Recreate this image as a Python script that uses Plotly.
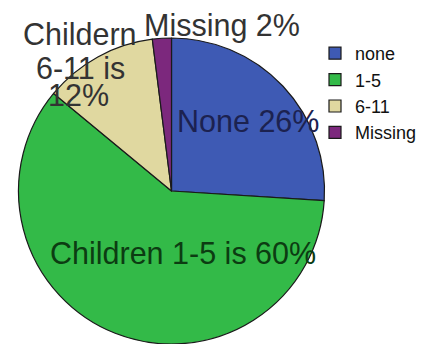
import plotly.graph_objects as go

categories = ["none", "1-5", "6-11", "Missing"]
values = [26, 60, 12, 2]
colors = ["#3E5AB4", "#33BA48", "#E0D8A0", "#7C287D"]

label_texts = ["None 26%", "Children 1-5 is 60%", "Childern", "6-11 is", "12%", "Missing 2%"]

W, H = 433, 344

fig = go.Figure(go.Pie(
    labels=categories,
    values=values,
    sort=False,
    direction="clockwise",
    rotation=0,
    marker=dict(colors=colors, line=dict(color="#1a1a1a", width=1.2)),
    textinfo="none",
    hoverinfo="label+percent",
    domain=dict(x=[(171.5 - 154) / W, (171.5 + 154) / W], y=[0, 306 / H]),
))

font_family = "Liberation Sans, Arial, sans-serif"
ann_specs = [
    (label_texts[0], 248, 121, "#1c2250"),
    (label_texts[1], 183, 253, "#0c3c12"),
    (label_texts[2], 80, 34, "#333333"),
    (label_texts[3], 80, 68, "#333333"),
    (label_texts[4], 78, 95, "#333333"),
    (label_texts[5], 222, 25, "#333333"),
]
annotations = [
    dict(text=t, x=x / W, y=1 - y / H, xref="paper", yref="paper",
         xanchor="center", yanchor="middle", showarrow=False,
         font=dict(family=font_family, size=30.5, color=c))
    for t, x, y, c in ann_specs
]

fig.update_layout(
    width=W, height=H,
    margin=dict(l=0, r=0, t=0, b=0),
    paper_bgcolor="white",
    plot_bgcolor="white",
    showlegend=True,
    legend=dict(
        x=315 / W, y=1 - 35 / H, xanchor="left", yanchor="top",
        font=dict(family=font_family, size=18, color="#111111"),
        bgcolor="rgba(0,0,0,0)",
        itemclick=False, itemdoubleclick=False,
    ),
    annotations=annotations,
)

fig.write_html("out.html", config={"displayModeBar": False},
               post_script="document.body.style.margin='0';")
